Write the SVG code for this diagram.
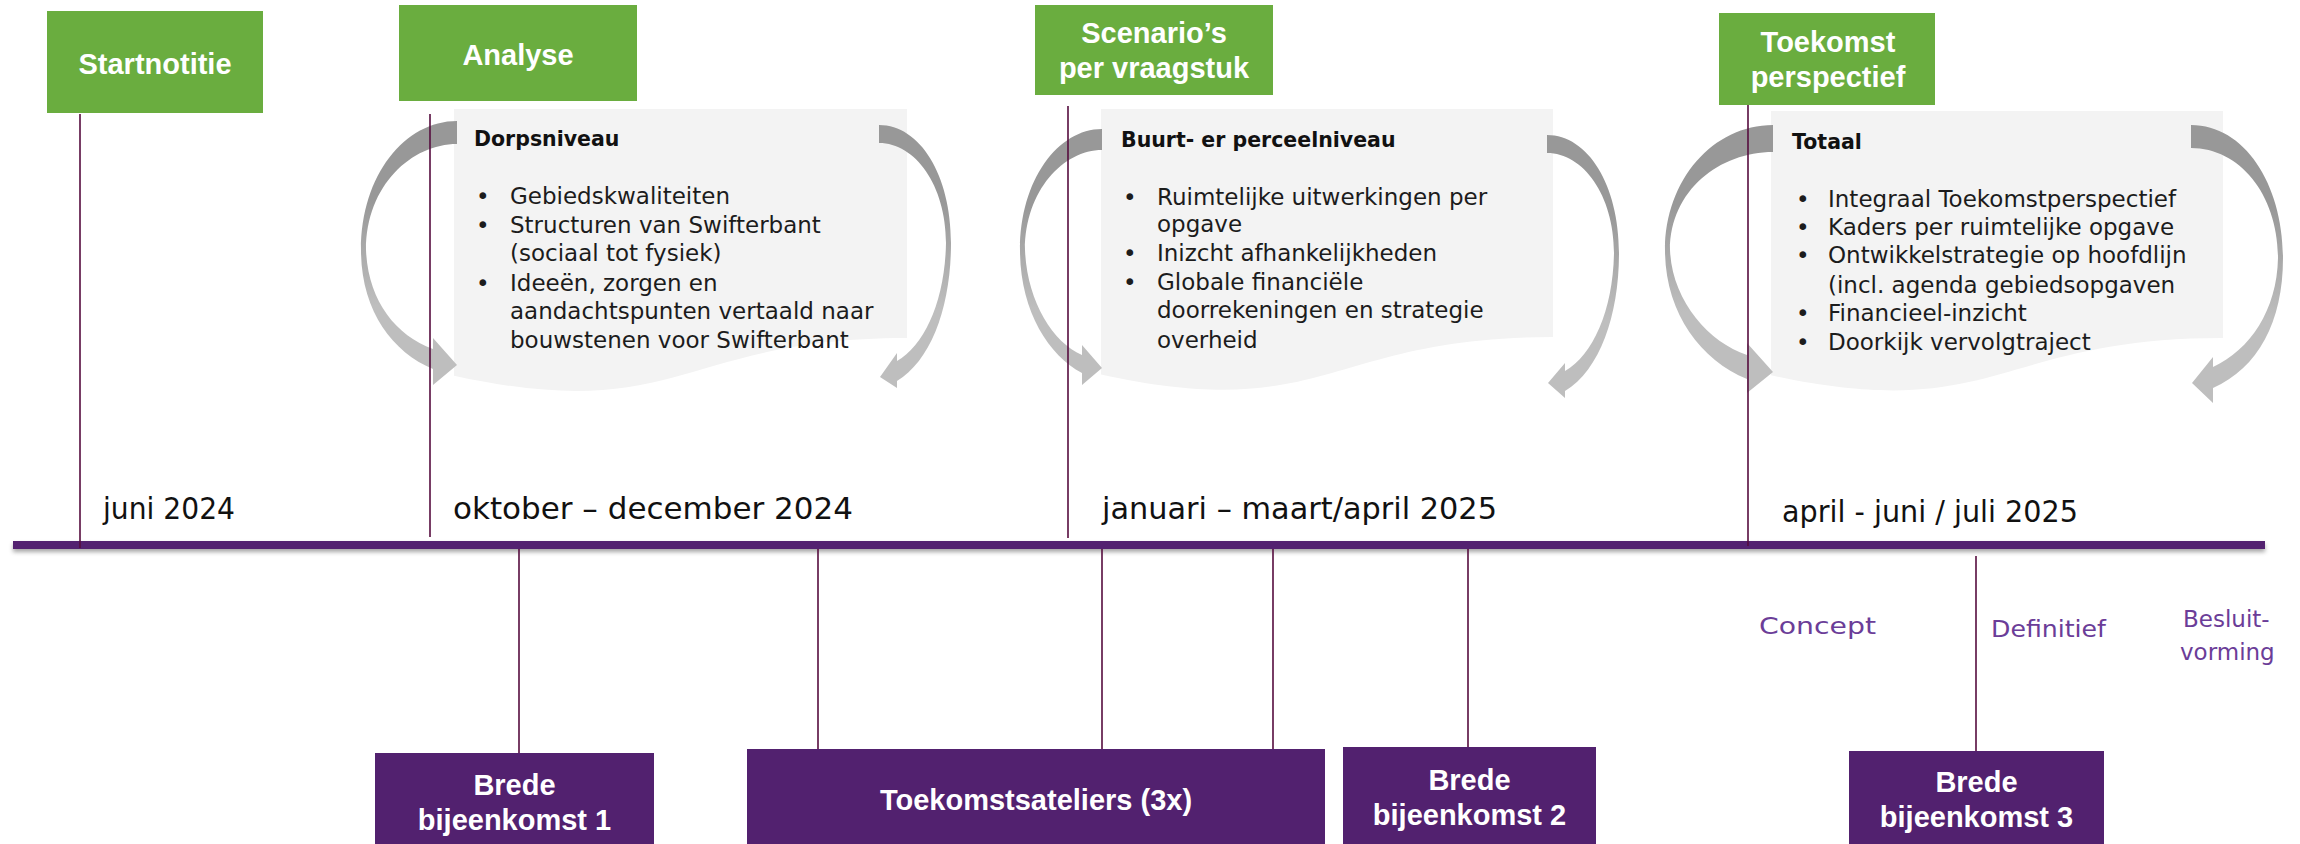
<svg xmlns="http://www.w3.org/2000/svg" width="2300" height="844" viewBox="0 0 2300 844">
<style>
.ttl{font-family:"Liberation Sans",Arial,sans-serif;font-weight:bold;font-size:29px;fill:#ffffff;text-anchor:middle}
.head{font-family:"DejaVu Sans",sans-serif;font-weight:bold;font-size:20.5px;fill:#111111}
.body{font-family:"DejaVu Sans",sans-serif;font-size:23px;fill:#1c1c1c}
.date{font-family:"DejaVu Sans",sans-serif;font-size:30px;fill:#111111}
.lbl{font-family:"DejaVu Sans",sans-serif;font-size:23px;fill:#6B3D98}
.conn{stroke:#560C3E;stroke-width:1.6;fill:none}
.doc{fill:#F3F3F3}
.arr{fill:url(#ag)}
.green{fill:#6AAD3F}
.purple{fill:#52216F}
</style>
<defs>
<linearGradient id="ag" x1="0" y1="0" x2="0" y2="1">
<stop offset="0.3" stop-color="#989898"/>
<stop offset="0.7" stop-color="#BEBEBE"/>
</linearGradient>
<filter id="sh" x="-2%" y="-100%" width="104%" height="400%">
<feDropShadow dx="0" dy="3" stdDeviation="2" flood-color="#000" flood-opacity="0.35"/>
</filter>
</defs>
<rect width="2300" height="844" fill="#ffffff"/>

<!-- grey document shapes -->
<g id="doc-dorps">
<path class="doc" d="M454,109 H907 V338 C680.5,338 680.5,425.2 454,375.7 Z"/>
</g>
<g id="doc-buurt">
<path class="doc" d="M1101,109 H1553 V337 C1327,337 1327,424 1101,374.5 Z"/>
</g>
<g id="doc-totaal">
<path class="doc" d="M1771,111 H2223 V338 C1997,338 1997,424.4 1771,375.3 Z"/>
</g>

<!-- curved arrows -->
<g id="arrows">
<path class="arr" d="M457,121 C405,121 361,175 361,250 C361,310 392,352 433,369 L433,385 L457,365 L433,338 L433,349 C395,335 368,300 366,250 C366,185 412,144 457,144 Z"/>
<path class="arr" d="M879,125 C920,125 951,175 951,243 C951,305 932,360 897,381 L897,388 L880,377 L897,353 L897,361 C925,345 945,300 946,243 C946,185 915,143 879,143 Z"/>
<path class="arr" d="M1102,129 C1058,129 1020,180 1020,250 C1020,310 1048,355 1082,373 L1082,385 L1102,368 L1082,345 L1082,355 C1052,342 1027,300 1025,250 C1025,190 1064,150 1102,150 Z"/>
<path class="arr" d="M1547,135 C1588,135 1619,185 1619,253 C1619,315 1600,370 1565,391 L1565,398 L1548,383 L1565,363 L1565,371 C1593,355 1613,310 1614,253 C1614,195 1583,153 1547,153 Z"/>
<path class="arr" d="M1773,125 C1713,125 1665,180 1665,250 C1665,312 1700,360 1747,379 L1747,393 L1773,372 L1747,343 L1747,355 C1708,342 1672,300 1670,250 C1670,190 1720,152 1773,152 Z"/>
<path class="arr" d="M2191,125 C2245,125 2283,185 2283,258 C2283,322 2258,368 2213,388 L2213,403 L2192,383 L2213,357 L2213,367 C2250,350 2277,310 2278,258 C2278,195 2240,148 2191,148 Z"/>
</g>

<!-- timeline bar -->
<g id="timeline">
<rect x="13" y="541" width="2252" height="8" class="purple" filter="url(#sh)"/>
</g>

<!-- connectors -->
<g id="connectors">
<line class="conn" x1="80" y1="114" x2="80" y2="548"/>
<line class="conn" x1="430" y1="114" x2="430" y2="537"/>
<line class="conn" x1="1068" y1="106" x2="1068" y2="538"/>
<line class="conn" x1="1748" y1="105" x2="1748" y2="546"/>
<line class="conn" x1="519" y1="549" x2="519" y2="753"/>
<line class="conn" x1="818" y1="549" x2="818" y2="749"/>
<line class="conn" x1="1102" y1="549" x2="1102" y2="749"/>
<line class="conn" x1="1273" y1="549" x2="1273" y2="749"/>
<line class="conn" x1="1468" y1="549" x2="1468" y2="747"/>
<line class="conn" x1="1976" y1="556" x2="1976" y2="751"/>
</g>

<!-- green phase boxes -->
<g id="startnotitie">
<rect class="green" x="47" y="11" width="216" height="102"/>
<text class="ttl" x="155" y="74">Startnotitie</text>
</g>
<g id="analyse">
<rect class="green" x="399" y="5" width="238" height="96"/>
<text class="ttl" x="518" y="65">Analyse</text>
</g>
<g id="scenarios">
<rect class="green" x="1035" y="5" width="238" height="90"/>
<text class="ttl" x="1154" y="43">Scenario’s</text>
<text class="ttl" x="1154" y="78">per vraagstuk</text>
</g>
<g id="toekomstperspectief">
<rect class="green" x="1719" y="13" width="216" height="92"/>
<text class="ttl" x="1828" y="52">Toekomst</text>
<text class="ttl" x="1828" y="87">perspectief</text>
</g>

<!-- document texts -->
<g id="dorpsniveau">
<text class="head" x="474" y="146">Dorpsniveau</text>
<text class="body" x="476" y="204">•</text><text class="body" x="510" y="204">Gebiedskwaliteiten</text>
<text class="body" x="476" y="233">•</text><text class="body" x="510" y="233">Structuren van Swifterbant</text>
<text class="body" x="510" y="261">(sociaal tot fysiek)</text>
<text class="body" x="476" y="291">•</text><text class="body" x="510" y="291">Ideeën, zorgen en</text>
<text class="body" x="510" y="319">aandachtspunten vertaald naar</text>
<text class="body" x="510" y="348">bouwstenen voor Swifterbant</text>
</g>
<g id="buurtniveau">
<text class="head" x="1121" y="147">Buurt- er perceelniveau</text>
<text class="body" x="1123" y="205">•</text><text class="body" x="1157" y="205">Ruimtelijke uitwerkingen per</text>
<text class="body" x="1157" y="232">opgave</text>
<text class="body" x="1123" y="261">•</text><text class="body" x="1157" y="261">Inizcht afhankelijkheden</text>
<text class="body" x="1123" y="290">•</text><text class="body" x="1157" y="290">Globale financiële</text>
<text class="body" x="1157" y="318">doorrekeningen en strategie</text>
<text class="body" x="1157" y="348">overheid</text>
</g>
<g id="totaal">
<text class="head" x="1792" y="149">Totaal</text>
<text class="body" x="1796" y="207">•</text><text class="body" x="1828" y="207">Integraal Toekomstperspectief</text>
<text class="body" x="1796" y="235">•</text><text class="body" x="1828" y="235">Kaders per ruimtelijke opgave</text>
<text class="body" x="1796" y="263">•</text><text class="body" x="1828" y="263">Ontwikkelstrategie op hoofdlijn</text>
<text class="body" x="1828" y="293">(incl. agenda gebiedsopgaven</text>
<text class="body" x="1796" y="321">•</text><text class="body" x="1828" y="321">Financieel-inzicht</text>
<text class="body" x="1796" y="350">•</text><text class="body" x="1828" y="350">Doorkijk vervolgtraject</text>
</g>

<!-- dates -->
<g id="dates">
<text class="date" x="103" y="519" textLength="132" lengthAdjust="spacingAndGlyphs">juni 2024</text>
<text class="date" x="453" y="519" textLength="400" lengthAdjust="spacingAndGlyphs">oktober – december 2024</text>
<text class="date" x="1102" y="519" textLength="395" lengthAdjust="spacingAndGlyphs">januari – maart/april 2025</text>
<text class="date" x="1782" y="522" textLength="296" lengthAdjust="spacingAndGlyphs">april - juni / juli 2025</text>
</g>

<!-- status labels -->
<g id="labels">
<text class="lbl" x="1759" y="634" textLength="117" lengthAdjust="spacingAndGlyphs">Concept</text>
<text class="lbl" x="1991" y="637" textLength="115" lengthAdjust="spacingAndGlyphs">Definitief</text>
<text class="lbl" x="2183" y="627">Besluit-</text>
<text class="lbl" x="2180" y="660">vorming</text>
</g>

<!-- purple meeting boxes -->
<g id="bijeenkomst1">
<rect class="purple" x="375" y="753" width="279" height="91"/>
<text class="ttl" x="514.5" y="795">Brede</text>
<text class="ttl" x="514.5" y="830">bijeenkomst 1</text>
</g>
<g id="ateliers">
<rect class="purple" x="747" y="749" width="578" height="95"/>
<text class="ttl" x="1036" y="810">Toekomstsateliers (3x)</text>
</g>
<g id="bijeenkomst2">
<rect class="purple" x="1343" y="747" width="253" height="97"/>
<text class="ttl" x="1469.5" y="790">Brede</text>
<text class="ttl" x="1469.5" y="825">bijeenkomst 2</text>
</g>
<g id="bijeenkomst3">
<rect class="purple" x="1849" y="751" width="255" height="93"/>
<text class="ttl" x="1976.5" y="792">Brede</text>
<text class="ttl" x="1976.5" y="827">bijeenkomst 3</text>
</g>
</svg>
